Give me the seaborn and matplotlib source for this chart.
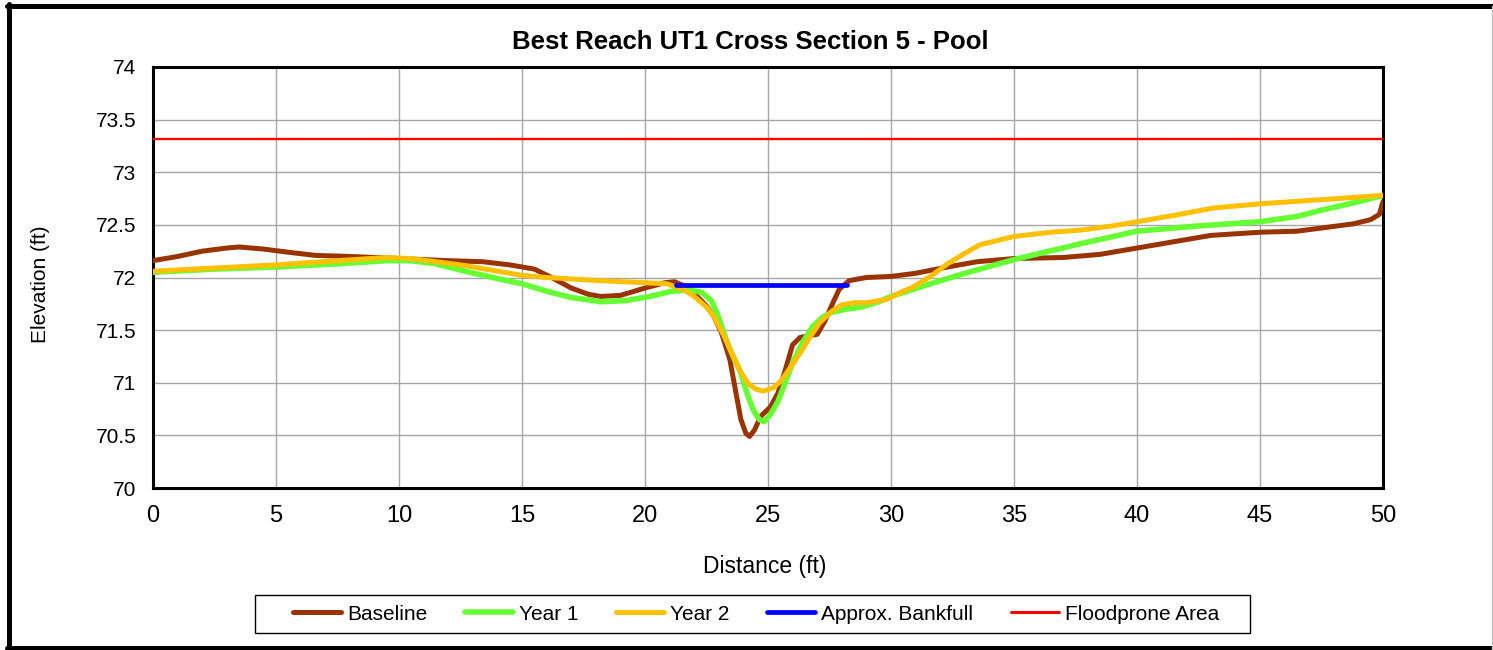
import numpy as np
import pandas as pd
import matplotlib
matplotlib.use("Agg")
import matplotlib.pyplot as plt
import seaborn as sns
from matplotlib.lines import Line2D
from matplotlib.patches import Rectangle
from matplotlib.ticker import FuncFormatter

# ---------------- data ----------------
baseline_x = [0, 1, 2, 3, 3.5, 4.5, 5.5, 6.6, 8, 10, 12, 13.4, 14.5, 15.5, 16.2, 17, 17.7,
              18.2, 19, 20, 20.8, 21.2, 21.6, 22.0, 22.5, 22.8, 23.1, 23.45, 23.7, 23.9,
              24.1, 24.25, 24.45, 24.7, 25.1, 25.4, 25.7, 26.0, 26.3, 26.7, 27.0, 27.3,
              27.6, 27.9, 28.3, 29, 30, 31, 32.3, 33.5, 35, 37, 38.5, 40, 41.5, 43, 45,
              46.5, 47.5, 48.8, 49.5, 49.85, 50]
baseline_y = [72.16, 72.20, 72.25, 72.28, 72.29, 72.27, 72.24, 72.21, 72.20, 72.18, 72.16,
              72.15, 72.12, 72.08, 72.00, 71.90, 71.84, 71.82, 71.83, 71.90, 71.95, 71.96,
              71.92, 71.85, 71.73, 71.63, 71.48, 71.22, 70.90, 70.65, 70.52, 70.49, 70.55,
              70.68, 70.77, 70.90, 71.12, 71.36, 71.43, 71.45, 71.46, 71.58, 71.74, 71.89,
              71.97, 72.00, 72.01, 72.04, 72.10, 72.15, 72.18, 72.19, 72.22, 72.28, 72.34,
              72.40, 72.43, 72.44, 72.47, 72.51, 72.55, 72.60, 72.72]

year1_x = [0, 2.5, 5, 7.5, 9.5, 10.5, 11.5, 12.5, 14, 15, 16, 17, 18.2, 19.2, 20.2, 21.1,
           21.8, 22.3, 22.7, 22.95, 23.3, 23.6, 23.9, 24.15, 24.4, 24.65, 24.85, 25.1,
           25.4, 25.7, 26.0, 26.4, 26.8, 27.2, 27.6, 28.2, 28.8, 29.5, 30, 31.6, 33, 35,
           37.5, 40, 42.5, 45, 46.5, 47.5, 49, 50]
year1_y = [72.05, 72.08, 72.10, 72.13, 72.16, 72.16, 72.13, 72.07, 71.99, 71.94, 71.87,
           71.81, 71.77, 71.78, 71.82, 71.87, 71.88, 71.86, 71.78, 71.65, 71.41, 71.24,
           71.09, 70.90, 70.74, 70.65, 70.63, 70.70, 70.82, 71.00, 71.19, 71.38, 71.53,
           71.62, 71.67, 71.70, 71.72, 71.77, 71.82, 71.94, 72.04, 72.17, 72.31, 72.44,
           72.49, 72.53, 72.58, 72.64, 72.72, 72.78]

year2_x = [0, 2.5, 5, 7.5, 9.5, 10.5, 11.5, 12.5, 14, 15, 16, 18.2, 20.9, 21.6, 22.0, 22.5,
           22.8, 23.2, 23.6, 23.9, 24.2, 24.5, 24.8, 25.2, 25.5, 25.9, 26.3, 26.7, 27.1,
           27.6, 28.0, 28.5, 29.0, 29.8, 30.4, 30.9, 31.6, 32.3, 33.0, 33.6, 35, 36.5,
           37.7, 39, 40, 41.5, 43.1, 45, 47.5, 50]
year2_y = [72.06, 72.09, 72.12, 72.16, 72.19, 72.18, 72.15, 72.12, 72.06, 72.02, 72.00,
           71.97, 71.94, 71.88, 71.82, 71.72, 71.63, 71.45, 71.25, 71.10, 70.99, 70.94,
           70.92, 70.95, 71.01, 71.14, 71.28, 71.43, 71.57, 71.68, 71.74, 71.76, 71.76,
           71.79, 71.86, 71.91, 72.01, 72.13, 72.23, 72.31, 72.39, 72.43, 72.45, 72.49,
           72.53, 72.59, 72.66, 72.70, 72.74, 72.78]

bankfull_x = [21.25, 28.2]
bankfull_y = [71.93, 71.93]

floodprone_x = [0, 50]
floodprone_y = [73.32, 73.32]

series_names = ["Baseline", "Year 1", "Year 2", "Approx. Bankfull", "Floodprone Area"]
series_colors = ["#993300", "#66FF33", "#FFC000", "#0000FF", "#FF0000"]
series_widths = [3.6, 4.0, 3.6, 3.4, 1.7]

x_ticks = [0, 5, 10, 15, 20, 25, 30, 35, 40, 45, 50]
y_ticks = [70, 70.5, 71, 71.5, 72, 72.5, 73, 73.5, 74]

title = "Best Reach UT1 Cross Section 5 - Pool"
xlabel = "Distance (ft)"
ylabel = "Elevation (ft)"

# ---------------- plot ----------------
sns.set_style("white")
plt.rcParams["font.family"] = ["Liberation Sans", "DejaVu Sans"]
plt.rcParams["text.color"] = "black"
plt.rcParams["xtick.labelcolor"] = "black"
plt.rcParams["ytick.labelcolor"] = "black"

W, H = 1493, 650
fig = plt.figure(figsize=(W / 100, H / 100), dpi=100)
ax = fig.add_axes([153 / W, 1 - 488 / H, (1383 - 153) / W, (488 - 67) / H])

xs = [baseline_x, year1_x, year2_x, bankfull_x, floodprone_x]
ys = [baseline_y, year1_y, year2_y, bankfull_y, floodprone_y]
for name, x, y, c, lw in zip(series_names, xs, ys, series_colors, series_widths):
    df = pd.DataFrame({"x": x, "y": y})
    sns.lineplot(data=df, x="x", y="y", ax=ax, sort=False, color=c, linewidth=lw,
                 label=name, solid_capstyle="round", solid_joinstyle="round",
                 clip_on=True, zorder=3)

ax.set_xlim(0, 50)
ax.set_ylim(70, 74)
ax.set_xticks(x_ticks)
ax.set_yticks(y_ticks)
ax.yaxis.set_major_formatter(FuncFormatter(lambda v, p: f"{v:g}"))
ax.grid(True, color="#A6A6A6", linewidth=1.0, zorder=0)
ax.set_axisbelow(True)
for s in ax.spines.values():
    s.set_color("black")
    s.set_linewidth(2.2)
ax.tick_params(axis="x", direction="out", length=4, width=1, color="#808080",
               labelsize=17, pad=8, labelcolor="black")
ax.tick_params(axis="y", direction="out", length=4, width=1, color="#808080",
               labelsize=15, pad=8, labelcolor="black")
ax.set_xlabel("")
ax.set_ylabel("")

fig.text(750 / W, 1 - 42 / H, title, ha="center", va="center", fontsize=18.5,
         fontweight="bold", color="black")
fig.text(765 / W, 1 - 566 / H, xlabel, ha="center", va="center", fontsize=16.5,
         color="black")
fig.text(40 / W, 1 - 284 / H, ylabel, ha="center", va="center", fontsize=15,
         rotation=90, color="black")

ax.get_legend().remove()
handles = [Line2D([0], [0], color=c, lw=lw if lw > 2 else 2.2, solid_capstyle="round")
           for c, lw in zip(series_colors, series_widths)]
leg = fig.legend(handles, series_names, loc="center", bbox_to_anchor=(756 / W, 1 - 614 / H),
                 ncol=5, fontsize=15, frameon=False,
                 handlelength=2.3, handletextpad=0.3, columnspacing=1.8,
                 borderpad=0.35, labelcolor="black")
# legend frame
fig.add_artist(Rectangle((255 / W, 1 - 633 / H), (1250 - 255) / W, 38 / H,
                         transform=fig.transFigure, fill=False, edgecolor="black",
                         linewidth=1.0))

# outer chart border
fig.add_artist(Line2D([9 / W, 9 / W], [0, 1 - 4 / H], color="black", lw=3.6,
                      transform=fig.transFigure))
fig.add_artist(Line2D([7 / W, 1], [1 - 6 / H, 1 - 6 / H], color="black", lw=3.6,
                      transform=fig.transFigure))
fig.add_artist(Line2D([7 / W, 1], [2 / H, 2 / H], color="black", lw=3.6,
                      transform=fig.transFigure))
fig.add_artist(Line2D([1 - 1.5 / W, 1 - 1.5 / W], [0, 1 - 6 / H], color="#C0C0C0", lw=1,
                      transform=fig.transFigure))

fig.savefig("out.png", dpi=100)
